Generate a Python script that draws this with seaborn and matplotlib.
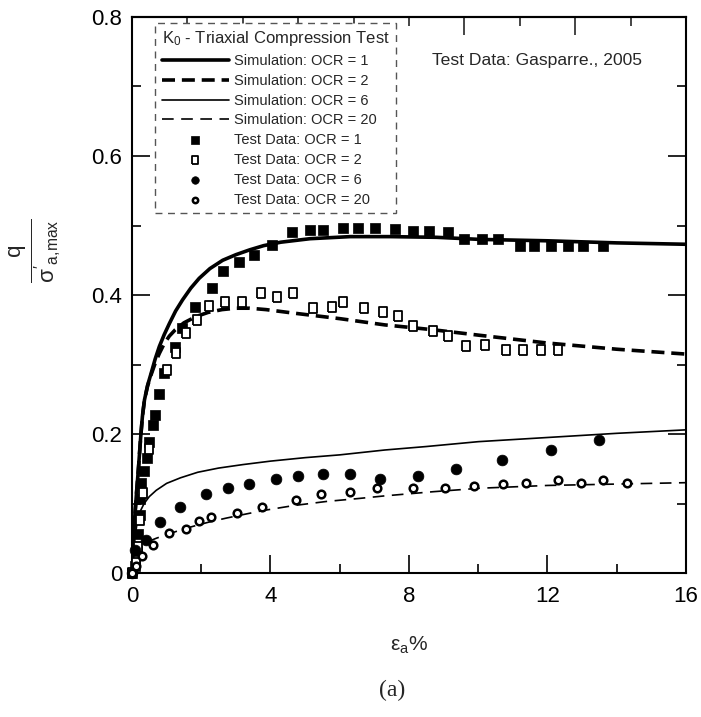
import matplotlib
matplotlib.use("Agg")
import matplotlib.pyplot as plt
import seaborn as sns
from matplotlib.ticker import MultipleLocator, FuncFormatter, NullFormatter

# ---- simulation curves (axial strain %, normalised deviator stress) ----
sim_strain_ocr1 = [0, 0.03, 0.06, 0.13, 0.19, 0.25, 0.30, 0.36, 0.45, 0.55, 0.67, 0.79, 0.93, 1.08,
                   1.26, 1.46, 1.7, 1.94, 2.25, 2.62, 3.0, 3.4, 3.8, 4.3, 5.14, 6.3, 7.45, 8.8,
                   10.05, 12.0, 14.0, 16.0]
sim_ratio_ocr1 = [0, 0.035, 0.067, 0.115, 0.153, 0.195, 0.225, 0.249, 0.270, 0.287, 0.308, 0.326,
                  0.343, 0.359, 0.377, 0.393, 0.410, 0.424, 0.438, 0.450, 0.458, 0.465, 0.471,
                  0.476, 0.481, 0.484, 0.484, 0.483, 0.480, 0.478, 0.475, 0.473]

sim_strain_ocr2 = [0, 0.03, 0.06, 0.13, 0.19, 0.25, 0.30, 0.36, 0.45, 0.55, 0.67, 0.79, 0.93, 1.08,
                   1.25, 1.5, 1.85, 2.2, 2.6, 3.0, 3.4, 3.87, 4.66, 6.0, 7.3, 8.7, 10.05, 11.98,
                   14.0, 16.0]
sim_ratio_ocr2 = [0, 0.035, 0.067, 0.115, 0.153, 0.195, 0.225, 0.249, 0.269, 0.285, 0.302, 0.316,
                  0.330, 0.341, 0.350, 0.360, 0.369, 0.375, 0.379, 0.381, 0.381, 0.379, 0.374,
                  0.366, 0.357, 0.350, 0.342, 0.331, 0.322, 0.315]

sim_strain_ocr6 = [0, 0.04, 0.08, 0.16, 0.25, 0.35, 0.5, 0.7, 1.0, 1.4, 1.9, 2.5, 3.2, 4.0, 5.0,
                   6.0, 7.3, 8.5, 10.0, 12.0, 14.0, 16.0]
sim_ratio_ocr6 = [0, 0.025, 0.050, 0.076, 0.090, 0.100, 0.110, 0.119, 0.129, 0.137, 0.145, 0.151,
                  0.156, 0.161, 0.166, 0.170, 0.177, 0.182, 0.189, 0.195, 0.201, 0.206]

sim_strain_ocr20 = [0, 0.07, 0.2, 0.4, 0.7, 0.98, 1.35, 1.75, 2.2, 2.72, 3.3, 3.8, 4.66, 5.62, 6.5,
                    7.3, 8.7, 10.05, 12.0, 14.0, 16.0]
sim_ratio_ocr20 = [0, 0.029, 0.038, 0.044, 0.050, 0.055, 0.061, 0.067, 0.073, 0.079, 0.085, 0.090,
                   0.097, 0.103, 0.107, 0.111, 0.117, 0.122, 0.126, 0.128, 0.130]

# ---- laboratory test data ----
test_strain_ocr1 = [0.0, 0.1, 0.14, 0.18, 0.24, 0.24, 0.25, 0.36, 0.44, 0.50, 0.61, 0.66, 0.78, 0.92,
                    1.24, 1.45, 1.83, 2.30, 2.64, 3.10, 3.52, 4.05, 4.63, 5.14, 5.52, 6.10, 6.52,
                    7.02, 7.60, 8.13, 8.58, 9.14, 9.59, 10.10, 10.58, 11.21, 11.61, 12.10, 12.60,
                    13.02, 13.60]
test_ratio_ocr1 = [0.0, 0.01, 0.032, 0.056, 0.083, 0.107, 0.129, 0.147, 0.166, 0.189, 0.213, 0.228,
                   0.258, 0.288, 0.325, 0.353, 0.383, 0.410, 0.435, 0.447, 0.457, 0.472, 0.490,
                   0.493, 0.493, 0.497, 0.497, 0.497, 0.495, 0.492, 0.492, 0.490, 0.480, 0.480,
                   0.480, 0.470, 0.470, 0.470, 0.470, 0.470, 0.470]

test_strain_ocr2 = [0.0, 0.12, 0.18, 0.23, 0.33, 0.50, 1.00, 1.27, 1.56, 1.87, 2.23, 2.70, 3.17,
                    3.72, 4.18, 4.64, 5.24, 5.77, 6.09, 6.70, 7.26, 7.69, 8.13, 8.68, 9.14, 9.65,
                    10.20, 10.79, 11.28, 11.81, 12.30]
test_ratio_ocr2 = [0.0, 0.015, 0.038, 0.076, 0.115, 0.178, 0.292, 0.317, 0.345, 0.364, 0.384, 0.390,
                   0.390, 0.403, 0.397, 0.403, 0.382, 0.383, 0.390, 0.382, 0.375, 0.370, 0.355,
                   0.348, 0.341, 0.327, 0.328, 0.321, 0.321, 0.321, 0.321]

test_strain_ocr6 = [0.0, 0.1, 0.40, 0.82, 1.38, 2.13, 2.77, 3.38, 4.16, 4.78, 5.52, 6.30, 7.15,
                    8.27, 9.36, 10.70, 12.09, 13.49]
test_ratio_ocr6 = [0.0, 0.033, 0.047, 0.074, 0.095, 0.113, 0.122, 0.128, 0.135, 0.140, 0.142, 0.142,
                   0.135, 0.139, 0.149, 0.162, 0.177, 0.191]

test_strain_ocr20 = [0.0, 0.12, 0.30, 0.62, 1.06, 1.56, 1.94, 2.28, 3.04, 3.76, 4.73, 5.45, 6.30,
                     7.09, 8.11, 9.04, 9.89, 10.71, 11.38, 12.31, 12.97, 13.60, 14.29]
test_ratio_ocr20 = [0.0, 0.01, 0.025, 0.040, 0.057, 0.063, 0.075, 0.081, 0.087, 0.095, 0.105, 0.113,
                    0.116, 0.122, 0.122, 0.122, 0.125, 0.128, 0.130, 0.134, 0.130, 0.134, 0.130]

legend_labels = ["Simulation: OCR = 1", "Simulation: OCR = 2", "Simulation: OCR = 6",
                 "Simulation: OCR = 20", "Test Data: OCR = 1", "Test Data: OCR = 2",
                 "Test Data: OCR = 6", "Test Data: OCR = 20"]

sns.set_style("ticks")
plt.rcParams["font.family"] = ["Liberation Sans", "DejaVu Sans"]
plt.rcParams["mathtext.fontset"] = "custom"
plt.rcParams["mathtext.rm"] = "Liberation Sans"
plt.rcParams["mathtext.it"] = "Liberation Sans"
plt.rcParams["mathtext.bf"] = "Liberation Sans:bold"
plt.rcParams["axes.edgecolor"] = "black"
plt.rcParams["axes.linewidth"] = 1.5

fig = plt.figure(figsize=(7.01, 7.17), dpi=100)
ax = fig.add_axes([0.1883, 0.2008, 0.7903, 0.7755])

# simulation curves
sns.lineplot(x=sim_strain_ocr1, y=sim_ratio_ocr1, ax=ax, color="black", lw=2.6,
             sort=False, estimator=None, label=legend_labels[0])
l1 = ax.lines[-1]
sns.lineplot(x=sim_strain_ocr2, y=sim_ratio_ocr2, ax=ax, color="black", lw=2.6,
             linestyle=(0, (3.6, 1.9)), sort=False, estimator=None, label=legend_labels[1])
l2 = ax.lines[-1]
sns.lineplot(x=sim_strain_ocr6, y=sim_ratio_ocr6, ax=ax, color="black", lw=1.2,
             sort=False, estimator=None, label=legend_labels[2])
l3 = ax.lines[-1]
sns.lineplot(x=sim_strain_ocr20, y=sim_ratio_ocr20, ax=ax, color="black", lw=1.2,
             linestyle=(0, (7, 4.5)), sort=False, estimator=None, label=legend_labels[3])
l4 = ax.lines[-1]

# test data
tall_box = [(-0.36, -0.5), (0.36, -0.5), (0.36, 0.5), (-0.36, 0.5), (-0.36, -0.5)]
sns.scatterplot(x=test_strain_ocr1, y=test_ratio_ocr1, ax=ax, marker="s", s=62,
                color="black", edgecolor="black", linewidth=0.5, zorder=4, clip_on=False,
                label=legend_labels[4])
s1 = ax.collections[-1]
sns.scatterplot(x=test_strain_ocr2, y=test_ratio_ocr2, ax=ax, marker=tall_box, s=60,
                facecolor="white", edgecolor="black", linewidth=1.3, zorder=4, clip_on=False,
                label=legend_labels[5])
s2 = ax.collections[-1]
sns.scatterplot(x=test_strain_ocr6, y=test_ratio_ocr6, ax=ax, marker="o", s=60,
                color="black", edgecolor="black", linewidth=0.5, zorder=4, clip_on=False,
                label=legend_labels[6])
s3 = ax.collections[-1]
sns.scatterplot(x=test_strain_ocr20, y=test_ratio_ocr20, ax=ax, marker="o", s=30,
                facecolor="white", edgecolor="black", linewidth=1.8, zorder=4, clip_on=False,
                label=legend_labels[7])
s4 = ax.collections[-1]

ax.set_xlim(0, 16)
ax.set_ylim(0, 0.8)
ax.xaxis.set_major_locator(MultipleLocator(4))
ax.xaxis.set_minor_locator(MultipleLocator(2))
ax.yaxis.set_major_locator(MultipleLocator(0.2))
ax.yaxis.set_minor_locator(MultipleLocator(0.1))
ax.yaxis.set_major_formatter(FuncFormatter(lambda v, p: "0" if abs(v) < 1e-9 else f"{v:.1f}"))
ax.tick_params(which="both", direction="in", top=False, right=True, width=1.2,
               labelsize=16, colors="black")
ax.tick_params(which="major", length=13)
ax.tick_params(which="minor", length=6.5)
ax.tick_params(axis="x", pad=9)
ax.tick_params(axis="y", pad=7)

# top axis carries its own tick spacing
top = ax.secondary_xaxis("top")
top.xaxis.set_major_locator(MultipleLocator(3.2))
top.xaxis.set_minor_locator(MultipleLocator(1.6))
top.xaxis.set_major_formatter(NullFormatter())
top.tick_params(which="both", direction="in", width=1.2)
top.tick_params(which="major", length=13)
top.tick_params(which="minor", length=6.5)
top.spines["top"].set_linewidth(1.5)

ax.set_xlabel("ε$_\\mathregular{a}$%", fontsize=15, labelpad=20)
ax.set_ylabel(r"$\frac{q}{\sigma'_{a,\!max}}$", fontsize=23)
ax.yaxis.set_label_coords(-0.125, 0.58)

ax.text(0.5415, 0.921, "Test Data: Gasparre., 2005", transform=ax.transAxes,
        fontsize=12.6, ha="left", va="center")

leg = ax.legend(handles=[l1, l2, l3, l4, s1, s2, s3, s4], labels=legend_labels,
                title=r"K$_0$ - Triaxial Compression Test", title_fontsize=12,
                loc="upper left", bbox_to_anchor=(0.0415, 0.99), borderaxespad=0,
                fontsize=10.5, frameon=True, fancybox=False, edgecolor="#555555",
                handlelength=4.6, handletextpad=0.4, labelspacing=0.40, borderpad=0.45,
                alignment="left", markerscale=0.7, framealpha=1)
leg.get_frame().set_linestyle((0, (5, 4)))
leg.get_frame().set_linewidth(1.0)

fig.text(392 / 701, 1 - 690 / 717, "(a)", fontsize=17, family="Liberation Serif",
         ha="center", va="center")

fig.savefig("out.png", dpi=100)
